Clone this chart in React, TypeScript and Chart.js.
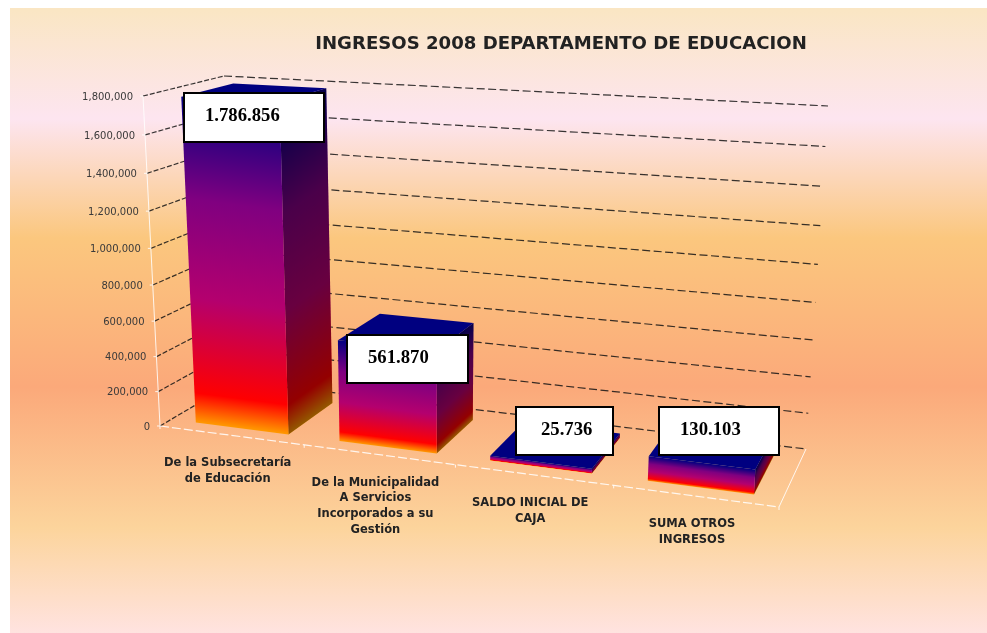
import React, { useEffect, useRef } from "react";
import { Chart, registerables } from "chart.js";

Chart.register(...registerables);

const titleText = "INGRESOS 2008 DEPARTAMENTO DE EDUCACION";
const categories = [
  ["De la Subsecretaría", "de Educación"],
  ["De la Municipalidad", "A Servicios", "Incorporados a su", "Gestión"],
  ["SALDO INICIAL DE", "CAJA"],
  ["SUMA OTROS", "INGRESOS"],
];
const ingresos = [1786856, 561870, 25736, 130103];
const axisMax = 1800000;
const axisStep = 200000;

// Offsets of each white value box from the bar's front-left top corner: dx, dy, w, h
const valueBoxes = [
  [3, -4, 140, 49],
  [9, -5, 121, 48],
  [25.5, -49, 97, 48],
  [10, -49, 120, 48],
];

// Screen corners of the 3D plot box (f = front, b = back; b/t = bottom/top; l/r)
const box3d = {
  fbl: [160, 426], fbr: [779, 507], ftl: [143, 96], ftr: [802, 129],
  bbl: [236, 381], bbr: [806, 449], btl: [224, 76], btr: [828, 106],
};
const depthFront = 0.15;
const depthBack = 0.81;

const bgStops: [number, string][] = [
  [8, "#fae6c3"], [119, "#fde5f0"], [238, "#fbc77e"], [387, "#fba97a"], [528, "#fcd49c"], [633, "#ffe3e0"],
];
const barStops: [number, string][] = [
  [0, "#ff9900"], [0.09, "#ff0000"], [0.38, "#b4006e"], [0.68, "#800080"], [1, "#000080"],
];

type P = [number, number];
const mix = (a: number[], b: number[], k: number): P => [a[0] + (b[0] - a[0]) * k, a[1] + (b[1] - a[1]) * k];

function project(t: number, v: number, w: number): P {
  const u = t * (0.909 + 0.091 * t);
  const s = v * (0.93 + 0.07 * v);
  const front = mix(mix(box3d.fbl, box3d.fbr, u), mix(box3d.ftl, box3d.ftr, u), s);
  const back = mix(mix(box3d.bbl, box3d.bbr, u), mix(box3d.btl, box3d.btr, u), s);
  return mix(front, back, w);
}

function polygon(ctx: CanvasRenderingContext2D, pts: P[]) {
  ctx.beginPath();
  pts.forEach((p, i) => (i ? ctx.lineTo(p[0], p[1]) : ctx.moveTo(p[0], p[1])));
  ctx.closePath();
}

function line(ctx: CanvasRenderingContext2D, pts: P[]) {
  ctx.beginPath();
  pts.forEach((p, i) => (i ? ctx.lineTo(p[0], p[1]) : ctx.moveTo(p[0], p[1])));
  ctx.stroke();
}

function faceGradient(ctx: CanvasRenderingContext2D, b0: P, b1: P, t0: P, t1: P) {
  const dx = b1[0] - b0[0];
  const dy = b1[1] - b0[1];
  const len = Math.hypot(dx, dy) || 1;
  let nx = dy / len;
  let ny = -dx / len;
  if (ny > 0) { nx = -nx; ny = -ny; }
  const bm = mix(b0, b1, 0.5);
  const tm = mix(t0, t1, 0.5);
  const L = (tm[0] - bm[0]) * nx + (tm[1] - bm[1]) * ny;
  const g = ctx.createLinearGradient(bm[0], bm[1], bm[0] + nx * L, bm[1] + ny * L);
  barStops.forEach(([o, c]) => g.addColorStop(o, c));
  return g;
}

const scene = {
  id: "scene3d",
  beforeDraw(chart: any) {
    const { ctx, width, height } = chart;
    const g = ctx.createLinearGradient(0, bgStops[0][0], 0, height);
    bgStops.forEach(([y, c]) => g.addColorStop((y - bgStops[0][0]) / (height - bgStops[0][0]), c));
    ctx.save();
    ctx.fillStyle = "#ffffff";
    ctx.fillRect(0, 0, width, height);
    ctx.fillStyle = g;
    ctx.fillRect(10, 8, width - 10, height - 8);
    ctx.restore();
  },
  beforeDatasetsDraw(chart: any) {
    const { ctx } = chart;
    const yS = chart.scales.y;
    const xS = chart.scales.x;
    const base = yS.getPixelForValue(0);
    const top = yS.getPixelForValue(axisMax);
    const left = xS.left;
    const tOf = (px: number) => (px - left) / xS.width;
    ctx.save();
    // gridlines on left wall and back wall
    ctx.lineWidth = 1.2;
    ctx.strokeStyle = "rgba(20,20,20,0.85)";
    yS.ticks.forEach((tick: any) => {
      const v = (base - yS.getPixelForValue(tick.value)) / (base - top);
      ctx.setLineDash([5, 2]);
      line(ctx, [project(0, v, 0), project(0, v, 1)]);
      ctx.setLineDash([8, 3.5]);
      line(ctx, [project(0, v, 1), project(1, v, 1)]);
    });
    // white axis lines
    ctx.lineWidth = 1;
    ctx.strokeStyle = "rgba(255,255,255,0.85)";
    ctx.setLineDash([]);
    line(ctx, [project(0, 0, 0), project(0, 1, 0)]);
    line(ctx, [project(1, 0, 0), project(1, 0, 1)]);
    yS.ticks.forEach((tick: any) => {
      const v = (base - yS.getPixelForValue(tick.value)) / (base - top);
      const p = project(0, v, 0);
      line(ctx, [p, [p[0] - 3, p[1]]]);
    });
    ctx.setLineDash([9, 3]);
    ctx.lineWidth = 1.2;
    line(ctx, [project(0, 0, 0), project(1, 0, 0)]);
    ctx.setLineDash([]);
    ctx.lineWidth = 1;
    const n = categories.length;
    for (let i = 0; i <= n; i++) {
      const p = project(i / n, 0, 0);
      line(ctx, [p, [p[0], p[1] + 3]]);
    }
    // y tick labels
    ctx.fillStyle = "#3a3a3a";
    ctx.font = "10px 'DejaVu Sans'";
    ctx.textAlign = "right";
    ctx.textBaseline = "middle";
    yS.ticks.forEach((tick: any) => {
      const v = (base - yS.getPixelForValue(tick.value)) / (base - top);
      const p = project(0, v, 0);
      ctx.fillText(Number(tick.value).toLocaleString("en-US"), p[0] - 10, p[1] + 1);
    });
    // category labels
    ctx.fillStyle = "#222222";
    ctx.font = "bold 11.5px 'DejaVu Sans'";
    ctx.textAlign = "center";
    categories.forEach((lines, i) => {
      const p = project(tOf(xS.getPixelForTick(i)), 0, 0);
      lines.forEach((txt, k) => ctx.fillText(txt, p[0] - 3.5, p[1] + 28 + k * 15.7));
    });
    ctx.restore();
  },
  beforeDatasetDraw(chart: any, args: any) {
    const { ctx } = chart;
    const xS = chart.scales.x;
    const yS = chart.scales.y;
    const base = yS.getPixelForValue(0);
    const top = yS.getPixelForValue(axisMax);
    args.meta.data.forEach((bar: any) => {
      const t0 = (bar.x - bar.width / 2 - xS.left) / xS.width;
      const t1 = (bar.x + bar.width / 2 - xS.left) / xS.width;
      const v = (base - bar.y) / (base - top);
      const fbl = project(t0, 0, depthFront);
      const fbr = project(t1, 0, depthFront);
      const bbr = project(t1, 0, depthBack);
      const ftl = project(t0, v, depthFront);
      const ftr = project(t1, v, depthFront);
      const btr = project(t1, v, depthBack);
      const btl = project(t0, v, depthBack);
      ctx.save();
      // side face
      polygon(ctx, [fbr, bbr, btr, ftr]);
      ctx.fillStyle = faceGradient(ctx, fbr, bbr, ftr, btr);
      ctx.fill();
      ctx.fillStyle = "rgba(0,0,0,0.42)";
      ctx.fill();
      // front face
      polygon(ctx, [fbl, fbr, ftr, ftl]);
      ctx.fillStyle = faceGradient(ctx, fbl, fbr, ftl, ftr);
      ctx.fill();
      // top face
      polygon(ctx, [ftl, ftr, btr, btl]);
      ctx.fillStyle = "#000080";
      ctx.fill();
      ctx.restore();
    });
    return false;
  },
  afterDatasetsDraw(chart: any) {
    const { ctx } = chart;
    const xS = chart.scales.x;
    const yS = chart.scales.y;
    const base = yS.getPixelForValue(0);
    const top = yS.getPixelForValue(axisMax);
    const meta = chart.getDatasetMeta(0);
    ctx.save();
    meta.data.forEach((bar: any, i: number) => {
      const t0 = (bar.x - bar.width / 2 - xS.left) / xS.width;
      const v = (base - bar.y) / (base - top);
      const a = project(t0, v, depthFront);
      const [dx, dy, w, h] = valueBoxes[i];
      const x = Math.round(a[0] + dx);
      const y = Math.round(a[1] + dy);
      ctx.fillStyle = "#ffffff";
      ctx.fillRect(x, y, w, h);
      ctx.strokeStyle = "#000000";
      ctx.lineWidth = 2;
      ctx.strokeRect(x, y, w, h);
      ctx.fillStyle = "#000000";
      ctx.font = "bold 18.7px 'Liberation Serif'";
      ctx.textAlign = "left";
      ctx.textBaseline = "middle";
      const label = String(ingresos[i]).replace(/\B(?=(\d{3})+$)/g, ".");
      ctx.fillText(label, x + (i === 2 ? 25 : 21), y + h / 2 - 1);
    });
    ctx.restore();
  },
};

export default function App() {
  const ref = useRef<HTMLCanvasElement>(null);
  useEffect(() => {
    const chart = new Chart(ref.current as HTMLCanvasElement, {
      type: "bar",
      data: {
        labels: categories as any,
        datasets: [{ label: "Ingresos 2008", data: ingresos, barPercentage: 0.65, categoryPercentage: 1, backgroundColor: "#800080" }],
      },
      options: {
        responsive: false,
        animation: false,
        layout: { padding: { left: 160, right: 25, top: 33, bottom: 125 } },
        plugins: {
          legend: { display: false },
          tooltip: { enabled: false },
          title: {
            display: true,
            text: titleText,
            color: "#222222",
            font: { family: "'DejaVu Sans'", size: 18.1, weight: "bold" },
            padding: { top: 0, bottom: 10 },
          },
        },
        scales: {
          x: { display: false },
          y: { display: false, min: 0, max: axisMax, ticks: { stepSize: axisStep } },
        },
      },
      plugins: [scene],
    } as any);
    return () => chart.destroy();
  }, []);
  return <canvas ref={ref} width={987} height={633} style={{ position: "absolute", left: 0, top: 0, display: "block" }} />;
}
